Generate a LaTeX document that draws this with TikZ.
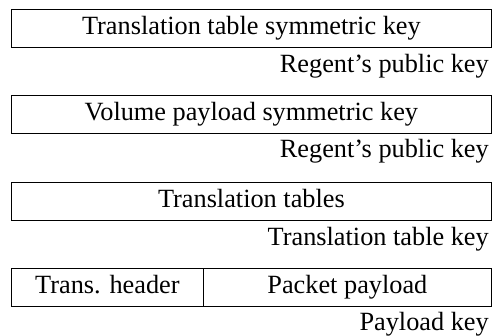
\documentclass[tikz,border=0pt]{standalone}
\usepackage{fontspec}
\setmainfont{Liberation Serif}
\begin{document}
\begin{tikzpicture}[x=1pt,y=-1pt,
  field/.style={draw, line width=0.8pt, minimum height=38pt, inner sep=0pt,
    text height=18.5pt, text depth=6.5pt, anchor=north west,
    font=\fontsize{26.3}{30}\selectfont},
  keylabel/.style={anchor=base east, inner sep=0pt,
    font=\fontsize{26.3}{30}\selectfont}]
\useasboundingbox (0,0) rectangle (492,335);

% encrypted layers, each with the key that protects it
\node[field, minimum width=480pt] (ttsk) at (11,9) {Translation table symmetric key};
\node[keylabel] (rpk1) at (489,72) {Regent's public key};

\node[field, minimum width=480pt] (vpsk) at (11,95) {Volume payload symmetric key};
\node[keylabel] (rpk2) at (489,157) {Regent's public key};

\node[field, minimum width=480pt] (tt) at (11,182) {Translation tables};
\node[keylabel] (ttk) at (489,245) {Translation table key};

\node[field, minimum width=192pt] (hdr) at (11,268) {Trans. header};
\node[field, minimum width=288pt] (pp) at (203,268) {Packet payload};
\node[keylabel] (pk) at (489,330) {Payload key};
\end{tikzpicture}
\end{document}
